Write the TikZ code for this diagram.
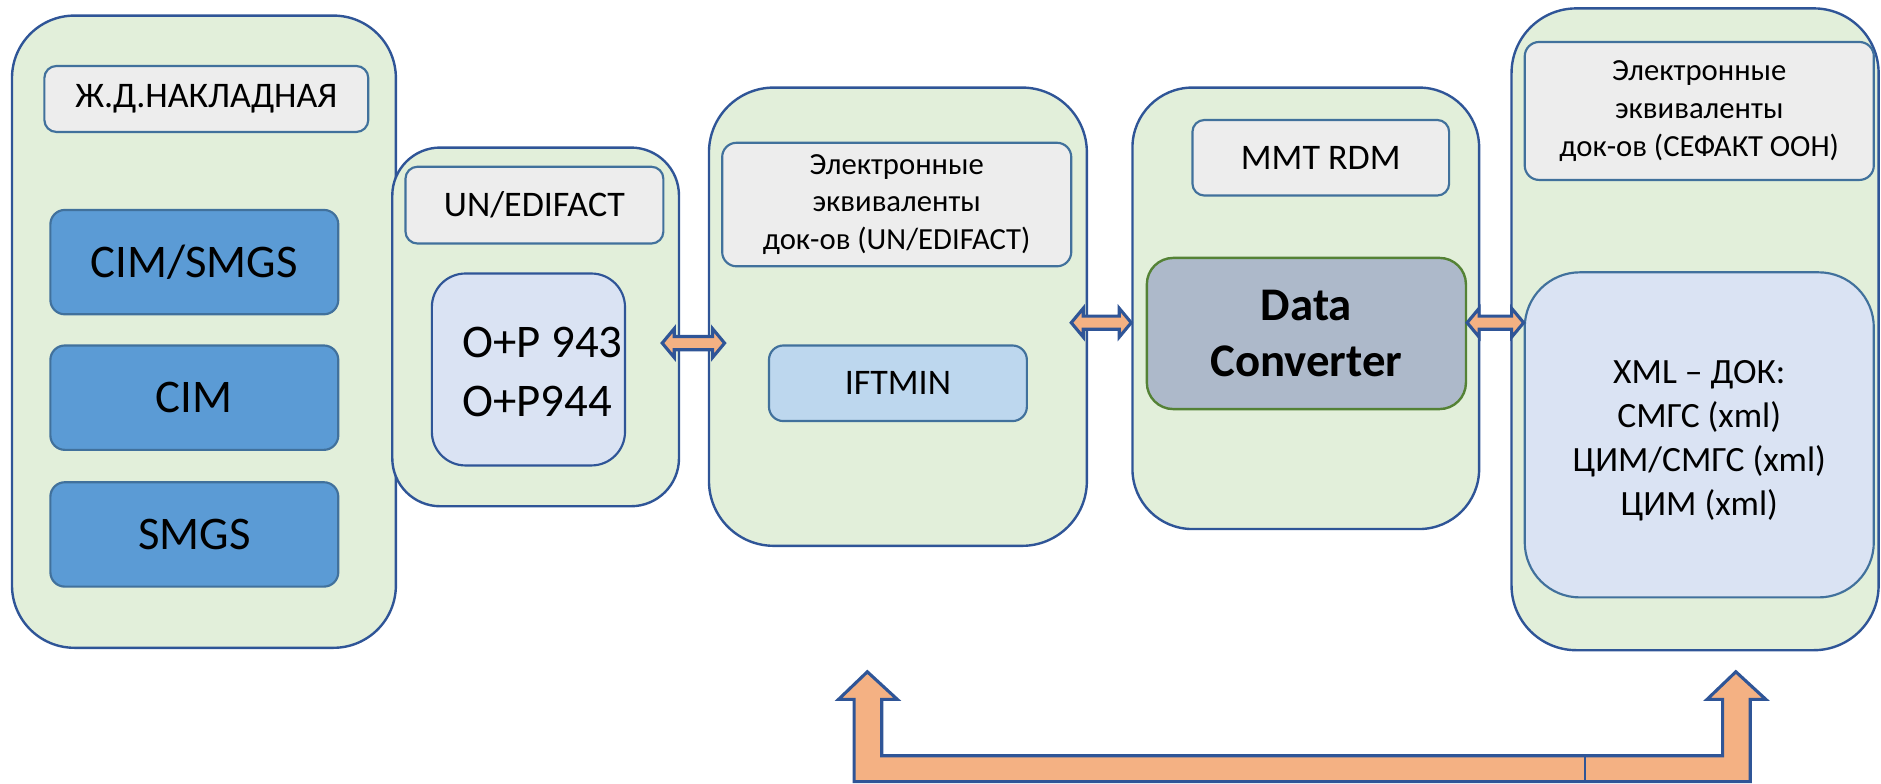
\documentclass[tikz,border=0pt]{standalone}
\usepackage{fontspec}
\setmainfont{Carlito}
\usetikzlibrary{calc}
\definecolor{bdr}{HTML}{2F5597}
\definecolor{lbdr}{HTML}{41719C}
\definecolor{grn}{HTML}{E2EFDA}
\definecolor{gry}{HTML}{EDEDED}
\definecolor{cimblue}{HTML}{5B9BD5}
\definecolor{paleblue}{HTML}{DAE3F3}
\definecolor{iftblue}{HTML}{BDD7EE}
\definecolor{dcfill}{HTML}{ADB9CA}
\definecolor{dcbdr}{HTML}{548235}
\definecolor{arrfill}{HTML}{F4B183}
\newcommand\dblarrow[2]{\draw[arrowshape] (#1) -- ++(10,-12) -- ++(0,6.5) -- ($(#2)+(-10,-5.5)$) -- ++(0,-6.5) -- (#2) -- ++(-10,12) -- ++(0,-6.5) -- ($(#1)+(10,5.5)$) -- ++(0,6.5) -- cycle;}
% options, name, x1, y1, x2, y2, text  (coordinates in reference pixels)
\newcommand\bnode[7]{\node[#1, minimum width={(#5-#3)*0.5pt}, minimum height={(#6-#4)*0.5pt}] (#2) at ({(#3+#5)/2},{(#4+#6)/2}) {#7};}
\begin{document}
\begin{tikzpicture}[x=0.5pt,y=-0.5pt,
  outerbox/.style={draw=bdr,fill=grn,line width=1pt,inner sep=0pt,rounded corners=#1},
  lblbox/.style={draw=lbdr,fill=gry,line width=0.9pt,inner sep=0pt,rounded corners=5pt,align=center,text=black},
  cimbox/.style={draw=lbdr,fill=cimblue,line width=0.9pt,inner sep=0pt,rounded corners=6pt,font=\fontsize{19.5}{23.5}\selectfont},
  pbox/.style={fill=paleblue,line width=0.9pt,inner sep=0pt,align=center},
  arrowshape/.style={draw=bdr,fill=arrfill,line width=1.3pt,line join=miter},
  lbl/.style={font=\fontsize{15}{18}\selectfont},
  lbls/.style={font=\fontsize{12.8}{15.7}\selectfont}]
\useasboundingbox (0,0) rectangle (1568,653);
% left column
\bnode{outerbox=26pt}{left}{10}{13}{330}{540}{}
\bnode{lblbox, lbl}{zhd}{37}{55}{307}{110}{Ж.Д.НАКЛАДНАЯ}
\bnode{cimbox}{cimsmgs}{42}{175}{282}{262}{CIM/SMGS}
\bnode{cimbox}{cim}{42}{288}{282}{375}{CIM}
\bnode{cimbox}{smgs}{42}{402}{282}{489}{SMGS}
% UN/EDIFACT column
\bnode{outerbox=20pt}{un}{327}{123}{566}{422}{}
\bnode{lblbox, lbl}{unlbl}{338}{139}{553}{203}{UN/EDIFACT}
\bnode{pbox, draw=bdr, rounded corners=14pt}{op}{360}{228}{521}{388}{}
\node[anchor=west, align=left, inner sep=0pt, font=\fontsize{19.5}{24.3}\selectfont] (optxt) at (385,310) {O+P 943\\O+P944};
% middle column
\bnode{outerbox=27pt}{mid}{591}{73}{906}{455}{}
\bnode{lblbox, lbls, rounded corners=6pt}{midlbl}{602}{119}{893}{222}{Электронные\\эквиваленты\\док-ов (UN/EDIFACT)}
\bnode{draw=lbdr, fill=iftblue, line width=0.9pt, inner sep=0pt, rounded corners=6pt, lbl}{ift}{641}{288}{856}{351}{IFTMIN}
% MMT column
\bnode{outerbox=25pt}{mmt}{944}{73}{1233}{441}{}
\bnode{lblbox, lbl}{mmtlbl}{994}{100}{1208}{163}{MMT RDM}
\bnode{draw=dcbdr, fill=dcfill, line width=1pt, inner sep=0pt, rounded corners=11pt, align=center, font=\fontsize{19.5}{23.5}\selectfont\bfseries}{dc}{956}{215}{1222}{341}{Data\\Converter}
% right column
\bnode{outerbox=27pt}{right}{1260}{7}{1566}{542}{}
\bnode{lblbox, lbls, rounded corners=6pt}{rlbl}{1271}{35}{1562}{150}{Электронные\\эквиваленты\\док-ов (СЕФАКТ ООН)}
\bnode{pbox, draw=lbdr, rounded corners=23pt}{xml}{1271}{227}{1562}{498}{}
\node[align=center, inner sep=0pt, font=\fontsize{14.8}{18.3}\selectfont] (xmltxt) at ($(xml.center)+(0,5)$) {XML – ДОК:\\СМГС (xml)\\ЦИМ/СМГС (xml)\\ЦИМ (xml)};
% double arrows
\coordinate (a1l) at (552,286); \coordinate (a1r) at (604,286);
\coordinate (a2l) at (893,269); \coordinate (a2r) at (943,269);
\coordinate (a3l) at (dc.east |- 0,269); \coordinate (a3r) at (xml.west |- 0,269);
\dblarrow{a1l}{a1r}
\dblarrow{a2l}{a2r}
\dblarrow{a3l}{a3r}
% bottom U arrow
\coordinate (bl) at (723,560); \coordinate (br) at (1447,560);
\draw[arrowshape] (712,651.5) -- (712,583) -- (699,583) -- (bl) -- (748,583) -- (735,583) -- (735,630) -- (1436,630) -- (1436,583) -- (1423,583) -- (br) -- (1472,583) -- (1459,583) -- (1459,651.5) -- cycle;
\coordinate (sepT) at (1321,630); \coordinate (sepB) at (1321,651.5);
\draw[draw=bdr, line width=0.9pt] (sepT) -- (sepB);
\end{tikzpicture}
\end{document}
